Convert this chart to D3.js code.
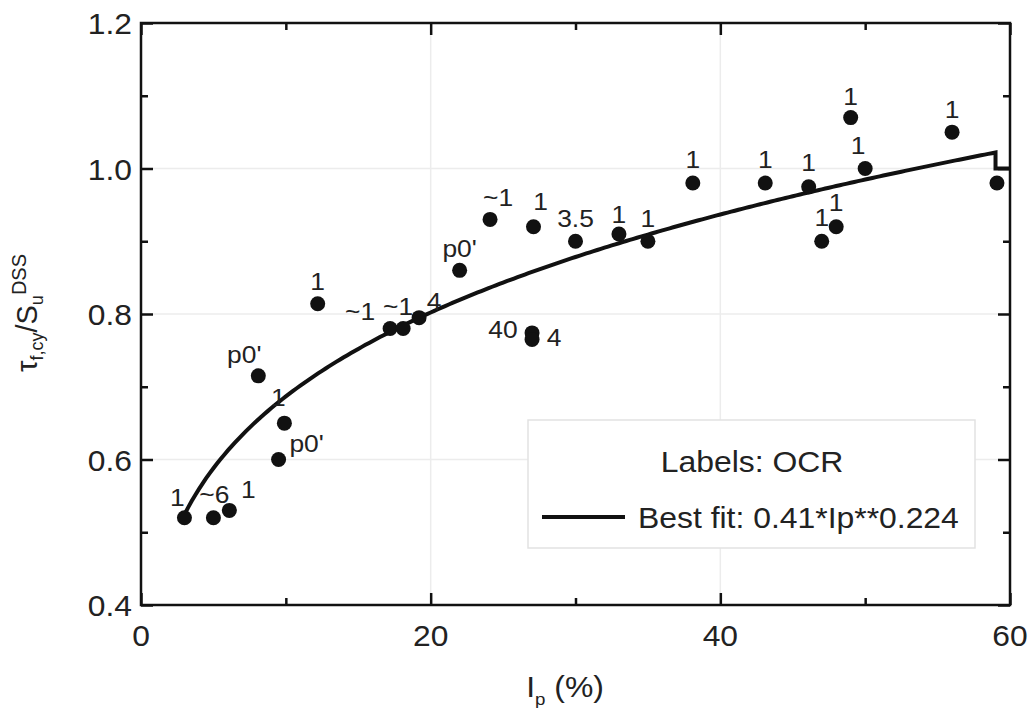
<!doctype html>
<html>
  <head>
    <meta charset="utf-8">
    <title>tau / su vs Ip</title>
    <script src="https://cdnjs.cloudflare.com/ajax/libs/d3/7.8.5/d3.min.js"></script>
    <style>
      body { margin: 0; background: #fff; }
      svg text { font-family: "Liberation Sans", Arial, sans-serif; fill: #222; }
    </style>
  </head>
  <body>
    <div id="chart"></div>
    <script>
    // data
    const ipValues    = [3, 5, 6.1, 8.1, 9.9, 9.5, 12.2, 17.2, 18.1, 19.2, 22, 24.1, 27.1, 30, 33, 35, 27, 27, 38.1, 43.1, 46.1, 49, 50, 47, 48, 56, 59.1];
    const ratioValues = [0.52, 0.52, 0.53, 0.715, 0.65, 0.60, 0.814, 0.78, 0.78, 0.795, 0.86, 0.93, 0.92, 0.90, 0.91, 0.90, 0.774, 0.765, 0.98, 0.98, 0.975, 1.07, 1.00, 0.90, 0.92, 1.05, 0.98];
    const pointLabels = ["1", "~6", "1", "p0'", "1", "p0'", "1", "~1", "~1", "4", "p0'", "~1", "1", "3.5", "1", "1", "40", "4", "1", "1", "1", "1", "1", "1", "1", "1", ""];

    // best fit from the legend
    const fitA = 0.41, fitB = 0.224;
    const fitRange = [3, 59];
    const fitTail = [[59, 1.0], [60, 1.0]];

    const xTicks = [0, 20, 40, 60];
    const yTicks = [0.4, 0.6, 0.8, 1.0, 1.2];

    // label offsets in px (text anchor middle, baseline)
    const labelOffsets = [[-7, -12], [1, -15], [19, -12], [-14, -13], [-6, -17], [28, -8], [0, -14], [-30, -9], [-5, -14], [15, -8],
                          [0, -13], [8, -13], [7, -17], [0, -14], [0, -11], [0, -14], [-29, 5], [22, 7], [0, -15], [0, -15],
                          [0, -16], [0, -13], [-7, -15], [0, -15], [0, -16], [0, -14], [0, 0]];

    const data = ipValues.map((x, i) => ({x: x, y: ratioValues[i], label: pointLabels[i], off: labelOffsets[i]}));

    const W = 1034, H = 725;
    const mLeft = 141, mRight = 1010, mTop = 23, mBottom = 605;
    const sx = 1.1; // the source glyphs are a bit wider than Liberation Sans

    const x = d3.scaleLinear().domain([0, 60]).range([mLeft, mRight]);
    const y = d3.scaleLinear().domain([0.4, 1.2]).range([mBottom, mTop]);

    const svg = d3.select('#chart').append('svg')
      .attr('width', W)
      .attr('height', H);

    // grid
    svg.append('g').selectAll('line').data([20, 40]).join('line')
      .attr('x1', d => x(d)).attr('x2', d => x(d))
      .attr('y1', mTop).attr('y2', mBottom)
      .attr('stroke', '#ececec').attr('stroke-width', 1.5);
    svg.append('g').selectAll('line').data([0.6, 0.8, 1.0]).join('line')
      .attr('y1', d => y(d)).attr('y2', d => y(d))
      .attr('x1', mLeft).attr('x2', mRight)
      .attr('stroke', '#ececec').attr('stroke-width', 1.5);

    // legend box
    svg.append('rect')
      .attr('x', 528).attr('y', 420).attr('width', 447).attr('height', 128)
      .attr('fill', '#fff').attr('stroke', '#e2e2e2').attr('stroke-width', 1.5);

    // axes (ticks inward on all four sides)
    const xMinor = [10, 30, 50], yMinor = [0.5, 0.7, 0.9, 1.1];
    svg.append('g').attr('transform', `translate(0,${mBottom})`)
      .call(d3.axisTop(x).tickValues(xTicks).tickSize(12).tickFormat(''));
    svg.append('g').attr('transform', `translate(0,${mBottom})`)
      .call(d3.axisTop(x).tickValues(xMinor).tickSize(7).tickFormat(''));
    svg.append('g').attr('transform', `translate(0,${mTop})`)
      .call(d3.axisBottom(x).tickValues(xTicks).tickSize(12).tickFormat(''));
    svg.append('g').attr('transform', `translate(0,${mTop})`)
      .call(d3.axisBottom(x).tickValues(xMinor).tickSize(7).tickFormat(''));
    svg.append('g').attr('transform', `translate(${mLeft},0)`)
      .call(d3.axisRight(y).tickValues(yTicks).tickSize(12).tickFormat(''));
    svg.append('g').attr('transform', `translate(${mLeft},0)`)
      .call(d3.axisRight(y).tickValues(yMinor).tickSize(7).tickFormat(''));
    svg.append('g').attr('transform', `translate(${mRight},0)`)
      .call(d3.axisLeft(y).tickValues(yTicks).tickSize(12).tickFormat(''));
    svg.append('g').attr('transform', `translate(${mRight},0)`)
      .call(d3.axisLeft(y).tickValues(yMinor).tickSize(7).tickFormat(''));
    svg.selectAll('.domain').remove();
    svg.selectAll('.tick line').attr('stroke', '#111').attr('stroke-width', 2.5);

    svg.append('rect')
      .attr('x', mLeft).attr('y', mTop).attr('width', mRight - mLeft).attr('height', mBottom - mTop)
      .attr('fill', 'none').attr('stroke', '#111').attr('stroke-width', 2.5);

    // tick labels
    svg.append('g').selectAll('text').data(xTicks).join('text')
      .attr('transform', d => `translate(${x(d)},${mBottom + 41}) scale(1.06,1)`)
      .attr('text-anchor', 'middle')
      .style('font-size', '30px')
      .text(d => d);
    svg.append('g').selectAll('text').data(yTicks).join('text')
      .attr('transform', d => `translate(${mLeft - 9},${y(d) + 11}) scale(1.06,1)`)
      .attr('text-anchor', 'end')
      .style('font-size', '30px')
      .text(d => d3.format('.1f')(d));

    // axis titles
    const xt = svg.append('text')
      .attr('transform', `translate(565,697) scale(${sx},1)`)
      .attr('text-anchor', 'middle')
      .style('font-size', '29px');
    xt.append('tspan').text('I');
    xt.append('tspan').attr('dy', 8).style('font-size', '17px').text('p');
    xt.append('tspan').attr('dy', -8).text(' (%)');

    const yt = svg.append('text')
      .attr('transform', 'translate(37,313) rotate(-90)')
      .attr('text-anchor', 'middle')
      .style('font-size', '29px');
    yt.append('tspan').text('τ');
    yt.append('tspan').attr('dy', 6).style('font-size', '18px').text('f,cy');
    yt.append('tspan').attr('dy', -6).text('/S');
    yt.append('tspan').attr('dy', 6).style('font-size', '18px').text('u');
    yt.append('tspan').attr('dy', -17).style('font-size', '20px').text('DSS');

    // fit curve
    const fitPts = d3.range(fitRange[0], fitRange[1] + 0.01, 0.25).map(v => [v, fitA * Math.pow(v, fitB)]);
    const line = d3.line().x(d => x(d[0])).y(d => y(d[1]));
    svg.append('path')
      .datum(fitPts.concat([[fitRange[1], fitTail[0][1]]], fitTail))
      .attr('d', line)
      .attr('fill', 'none')
      .attr('stroke', '#111')
      .attr('stroke-width', 4);

    // points
    svg.append('g').selectAll('circle').data(data).join('circle')
      .attr('cx', d => x(d.x))
      .attr('cy', d => y(d.y))
      .attr('r', 7.5)
      .attr('fill', '#111');

    svg.append('g').selectAll('text').data(data).join('text')
      .attr('transform', d => `translate(${x(d.x) + d.off[0]},${y(d.y) + d.off[1]}) scale(${sx},1)`)
      .attr('text-anchor', 'middle')
      .style('font-size', '24px')
      .text(d => d.label);

    // legend
    svg.append('text')
      .attr('transform', `translate(752,472) scale(${sx},1)`)
      .attr('text-anchor', 'middle')
      .style('font-size', '29px')
      .text('Labels: OCR');
    svg.append('line')
      .attr('x1', 542).attr('x2', 625).attr('y1', 517).attr('y2', 517)
      .attr('stroke', '#111').attr('stroke-width', 4);
    svg.append('text')
      .attr('transform', `translate(638,528) scale(${sx},1)`)
      .style('font-size', '29px')
      .text('Best fit: 0.41*Ip**0.224');
    </script>
  </body>
</html>
